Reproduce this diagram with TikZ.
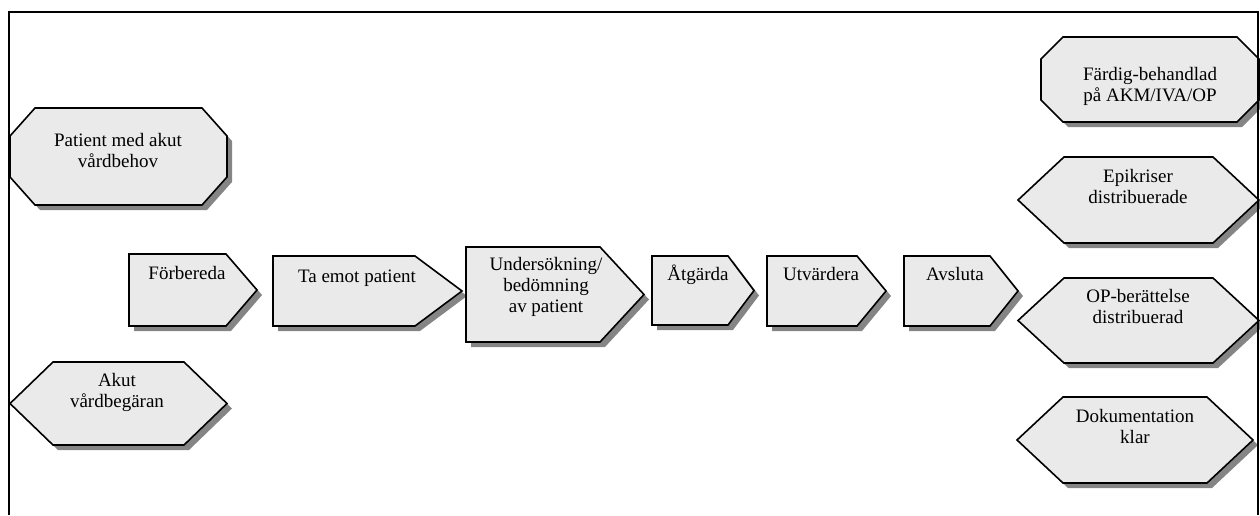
\documentclass[tikz,border=0pt]{standalone}
\usepackage{fontspec}
\setmainfont{Liberation Serif}
\definecolor{boxfill}{HTML}{EAEAEA}
\definecolor{boxshade}{HTML}{858585}
\tikzset{
  x=1pt,y=-1pt,
  boxline/.style={draw=black,line width=1.6pt,fill=boxfill,line join=miter},
  boxshadow/.style={fill=boxshade,shift={(5,5)}},
  % label positions give the baseline of the last line
  boxlabel/.style={font=\fontsize{19}{20.7}\selectfont,align=center,inner sep=0pt,anchor=base},
}
% process step: rectangle with a pointed right end
% #1 name, #2 left, #3 top, #4 start of point, #5 tip, #6 bottom, #7 label position, #8 text
\newcommand\penbox[8]{%
  \path[boxshadow] (#2,#3) -- (#4,#3) -- (#5,{(#3+#6)/2}) -- (#4,#6) -- (#2,#6) -- cycle;
  \path[boxline] (#2,#3) -- (#4,#3) -- (#5,{(#3+#6)/2}) -- (#4,#6) -- (#2,#6) -- cycle;
  \node[boxlabel] (#1) at #7 {#8};
}
% event: hexagon pointed left and right
% #1 name, #2 left, #3 top, #4 right, #5 bottom, #6 indent, #7 label position, #8 text
\newcommand\hexbox[8]{%
  \path[boxshadow] (#2,{(#3+#5)/2}) -- (#2+#6,#3) -- (#4-#6,#3) -- (#4,{(#3+#5)/2}) -- (#4-#6,#5) -- (#2+#6,#5) -- cycle;
  \path[boxline] (#2,{(#3+#5)/2}) -- (#2+#6,#3) -- (#4-#6,#3) -- (#4,{(#3+#5)/2}) -- (#4-#6,#5) -- (#2+#6,#5) -- cycle;
  \node[boxlabel] (#1) at #7 {#8};
}
% start/end state: octagon
% #1 name, #2 left, #3 top, #4 right, #5 bottom, #6 horizontal cut, #7 vertical cut, #8 label position, #9 text
\newcommand\octbox[9]{%
  \path[boxshadow] (#2+#6,#3) -- (#4-#6,#3) -- (#4,#3+#7) -- (#4,#5-#7) -- (#4-#6,#5) -- (#2+#6,#5) -- (#2,#5-#7) -- (#2,#3+#7) -- cycle;
  \path[boxline] (#2+#6,#3) -- (#4-#6,#3) -- (#4,#3+#7) -- (#4,#5-#7) -- (#4-#6,#5) -- (#2+#6,#5) -- (#2,#5-#7) -- (#2,#3+#7) -- cycle;
  \node[boxlabel] (#1) at #8 {#9};
}
\begin{document}
\begin{tikzpicture}
\useasboundingbox (0,0) rectangle (1260,515);

% triggers on the left
\octbox{need}{10}{108}{227}{205}{25}{28}{(118,167)}{Patient med akut\\vårdbehov}
\hexbox{request}{10}{362}{227}{445}{43}{(117,407)}{Akut\\vårdbegäran}

% main process chain
\penbox{prepare}{129}{254}{226}{257}{326}{(187,279)}{Förbereda}
\penbox{receive}{273}{256}{415}{462}{326}{(357,282)}{Ta emot patient}
\penbox{examine}{466}{247}{600}{644}{342}{(546,312)}{Undersökning/\\bedömning\\av patient}
\penbox{act}{652}{256}{728}{754}{325}{(698,280)}{Åtgärda}
\penbox{evaluate}{767}{256}{857}{886}{326}{(821,280)}{Utvärdera}
\penbox{close}{904}{256}{990}{1018}{326}{(955,280)}{Avsluta}

% results on the right
\octbox{done}{1041}{37}{1259}{122}{22}{22}{(1150,101)}{Färdig-behandlad\\på AKM/IVA/OP}
\hexbox{epicrisis}{1018}{157}{1259}{243}{46}{(1138,203)}{Epikriser\\distribuerade}
\hexbox{opreport}{1018}{278}{1259}{363}{46}{(1138,323)}{OP-berättelse\\distribuerad}
\hexbox{docs}{1017}{397}{1253}{483}{46}{(1135,443)}{Dokumentation\\klar}

% surrounding frame, open at the bottom
\draw[line width=1.6pt] (9,515) -- (9,12) -- (1258,12) -- (1258,515);
\end{tikzpicture}
\end{document}
